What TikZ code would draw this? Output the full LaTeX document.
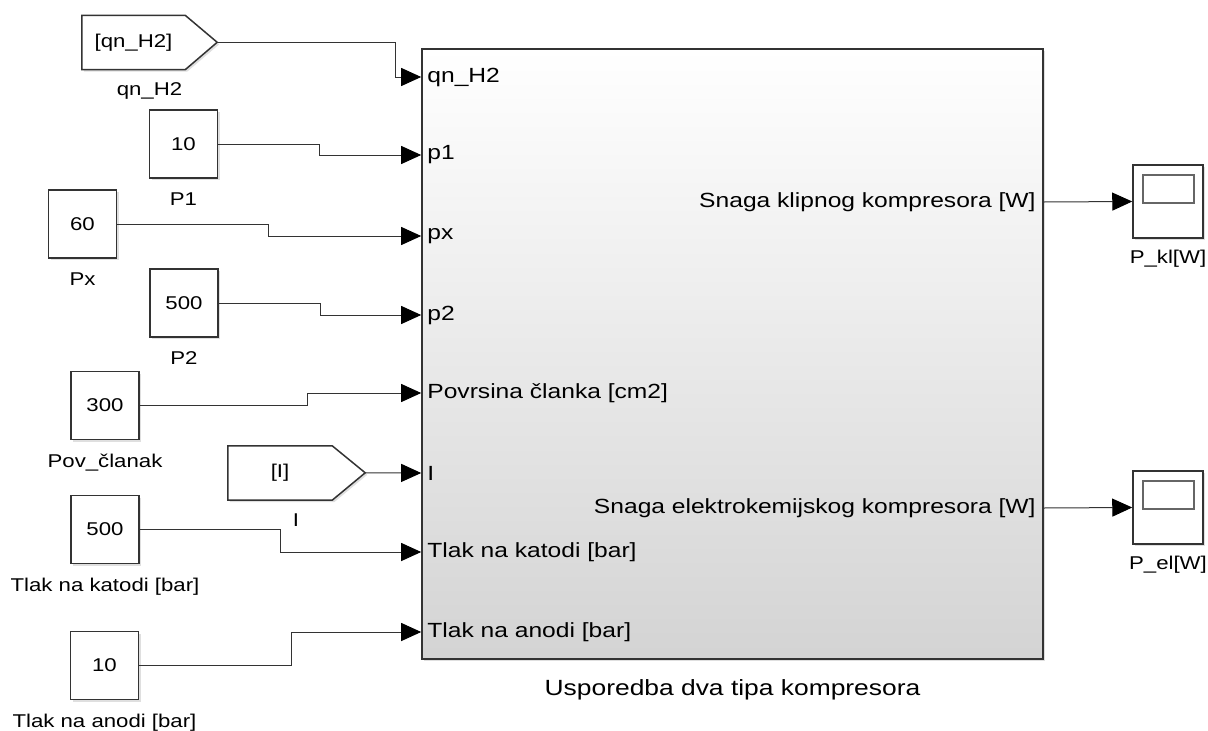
\documentclass[tikz,border=0pt]{standalone}
\usepackage{fontspec}
\setmainfont{Liberation Sans}[FakeStretch=1.2]
\usetikzlibrary{positioning}
\usetikzlibrary{arrows.meta}
\usetikzlibrary{shadows}

\begin{document}
\begin{tikzpicture}[x=1pt,y=-1pt]
			\tikzset{sig/.style={draw=black!80,line width=1pt,-{Triangle[length=20pt,width=18pt,color=black]}}}
			\tikzset{shdw/.style={drop shadow={shadow xshift=2pt,shadow yshift=-2pt,opacity=.25}}}
			\tikzset{const/.style={draw=black!80,line width=1.5pt,fill=white,shdw,minimum width=68pt,minimum height=68pt,inner sep=0pt,font=\fontsize{18.5}{22}\selectfont}}
			\tikzset{tagbody/.style={inner sep=0pt,minimum height=54pt,font=\fontsize{18.5}{22}\selectfont}}
			\tikzset{tagline/.style={draw=black!80,line width=1.5pt,fill=white,shdw,line join=miter}}
			\tikzset{viewer/.style={draw=black!80,line width=1.5pt,fill=white,shdw,minimum width=70pt,minimum height=73pt,
				path picture={\draw[black!60,line width=1.2pt] ([xshift=10pt,yshift=-10pt]path picture bounding box.north west) rectangle ([xshift=-9pt,yshift=-38pt]path picture bounding box.north east);}}}
			\tikzset{subsys/.style={draw=black!80,line width=1.6pt,shdw,top color=white,middle color=black!3,bottom color=black!17,minimum width=621pt,minimum height=610pt}}
			\tikzset{blkname/.style={inner sep=0pt,font=\fontsize{18.5}{22}\selectfont}}
			\tikzset{port/.style={inner sep=0pt,font=\fontsize{20.5}{24}\selectfont}}
			\useasboundingbox (0,0) rectangle (1208,731);
			% Subsystem
			\node[subsys] (sys) at (732.5,354) {};
			\node[inner sep=0pt,font=\fontsize{22}{26}\selectfont,below=20pt of sys] (sysn) {Usporedba dva tipa kompresora};
			\foreach \i/\y in {1/77,2/155,3/236,4/315,5/393,6/473,7/552,8/632}
				\coordinate (in\i) at (sys.west |- 0,\y);
			\coordinate (out1) at (sys.east |- 0,202);
			\coordinate (out2) at (sys.east |- 0,508);
			% Port labels
			\node[port,anchor=west] (t1) at ([xshift=6pt]in1) {qn\_H2};
			\node[port,anchor=west] (t2) at ([xshift=6pt]in2) {p1};
			\node[port,anchor=west] (t3) at ([xshift=6pt]in3) {px};
			\node[port,anchor=west] (t4) at ([xshift=6pt]in4) {p2};
			\node[port,anchor=west] (t5) at ([xshift=6pt]in5) {Povrsina članka [cm2]};
			\node[port,anchor=west] (t6) at ([xshift=6pt]in6) {I};
			\node[port,anchor=west] (t7) at ([xshift=6pt]in7) {Tlak na katodi [bar]};
			\node[port,anchor=west] (t8) at ([xshift=6pt]in8) {Tlak na anodi [bar]};
			\node[port,anchor=east] (u1) at ([xshift=-8pt]out1) {Snaga klipnog kompresora [W]};
			\node[port,anchor=east] (u2) at ([xshift=-8pt]out2) {Snaga elektrokemijskog kompresora [W]};
			% Sources
			\node[tagbody,minimum width=103pt] (g1) at (133.5,42.5) {};
			\draw[tagline] (g1.north west) -- (g1.north east) -- ++(32,27) coordinate (g1tip) -- (g1.south east) -- (g1.south west) -- cycle;
			\node[tagbody] (g1t) at (g1) {[qn\_H2]};
			\node[blkname,anchor=north] (g1n) at ([xshift=16pt,yshift=-13pt]g1.south) {qn\_H2};
			\node[const] (k1) at (183.5,144) {10};
			\node[blkname,below=14pt of k1] (k1n) {P1};
			\node[const] (k2) at (82.5,224) {60};
			\node[blkname,below=14pt of k2] (k2n) {Px};
			\node[const] (k3) at (184,303) {500};
			\node[blkname,below=14pt of k3] (k3n) {P2};
			\node[const] (k4) at (105,405.5) {300};
			\node[blkname,below=14pt of k4] (k4n) {Pov\_članak};
			\node[tagbody,minimum width=104pt] (g2) at (280,473) {};
			\draw[tagline] (g2.north west) -- (g2.north east) -- ++(33,27) coordinate (g2tip) -- (g2.south east) -- (g2.south west) -- cycle;
			\node[tagbody] (g2t) at (g2) {[I]};
			\node[blkname,anchor=north] (g2n) at ([xshift=16pt,yshift=-13pt]g2.south) {I};
			\node[const] (k5) at (105,529.5) {500};
			\node[blkname,below=14pt of k5] (k5n) {Tlak na katodi [bar]};
			\node[const] (k6) at (104.5,665.5) {10};
			\node[blkname,below=14pt of k6] (k6n) {Tlak na anodi [bar]};
			% Scopes
			\node[viewer] (sc1) at (1168,201.5) {};
			\node[blkname,below=11pt of sc1] (sc1n) {P\_kl[W]};
			\node[viewer] (sc2) at (1168,507.5) {};
			\node[blkname,below=11pt of sc2] (sc2n) {P\_el[W]};
			% Signal lines
			\draw[sig] (g1tip) -- ++(178,0) |- (in1);
			\draw[sig] (k1.east) -- ++(101.5,0) |- (in2);
			\draw[sig] (k2.east) -- ++(151.5,0) |- (in3);
			\draw[sig] (k3.east) -- ++(102,0) |- (in4);
			\draw[sig] (k4.east) -- ++(168,0) |- (in5);
			\draw[sig] (g2tip) -- (in6);
			\draw[sig] (k5.east) -- ++(141,0) |- (in7);
			\draw[sig] (k6.east) -- ++(152,0) |- (in8);
			\draw[sig] (out1) -- (sc1.west);
			\draw[sig] (out2) -- (sc2.west);
\end{tikzpicture}
\end{document}
